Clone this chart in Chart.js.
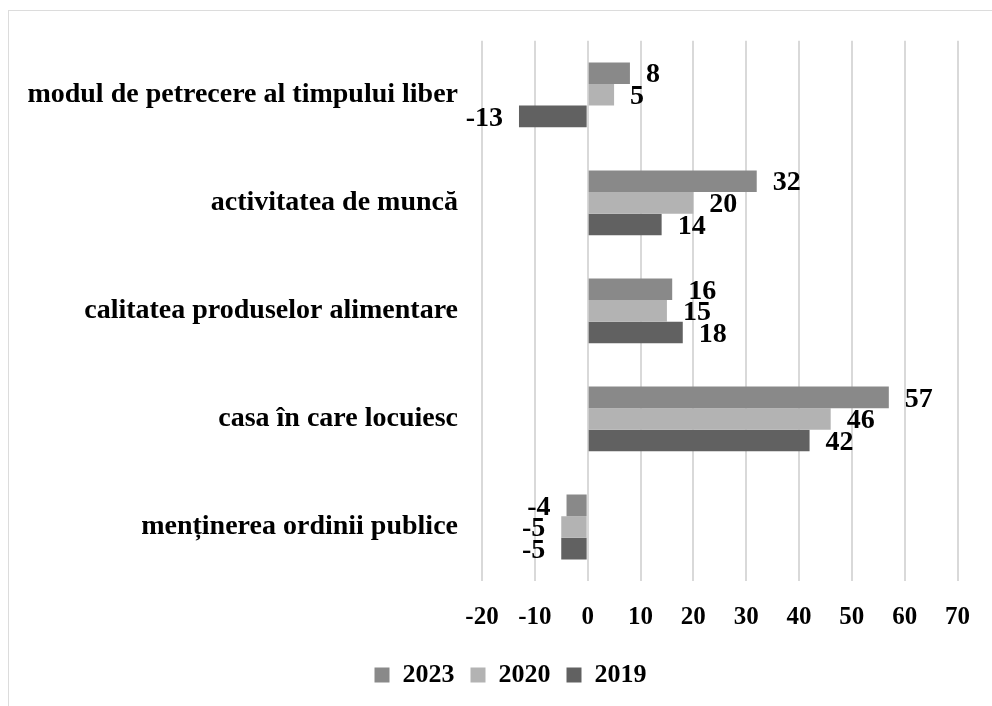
<!DOCTYPE html>
<html>
<head>
<meta charset="utf-8">
<script src="https://cdn.jsdelivr.net/npm/chart.js@4.4.0/dist/chart.umd.min.js"></script>
<style>
  html, body { margin: 0; padding: 0; background: #fff; overflow: hidden; }
  .frame {
    position: absolute; left: 8px; top: 10px; width: 1100px; height: 1000px;
    border: 1.5px solid #dcdcdc; box-sizing: border-box;
  }
  canvas { position: absolute; left: 0; top: 0; }
</style>
</head>
<body>
<div class="frame"></div>
<canvas id="chart" width="992" height="706"></canvas>
<script>
const categories = [
  "modul de petrecere al timpului liber",
  "activitatea de muncă",
  "calitatea produselor alimentare",
  "casa în care locuiesc",
  "menținerea ordinii publice",
];
const values2023 = [8, 32, 16, 57, -4];
const values2020 = [5, 20, 15, 46, -5];
const values2019 = [-13, 14, 18, 42, -5];
const xTicks = [-20, -10, 0, 10, 20, 30, 40, 50, 60, 70];

const FONT = "'Liberation Serif', 'Times New Roman', serif";

// value labels at the end of each bar
const barLabels = {
  id: "barLabels",
  afterDatasetsDraw(chart) {
    const ctx = chart.ctx;
    ctx.save();
    ctx.font = "bold 28px " + FONT;
    ctx.fillStyle = "#000";
    ctx.textBaseline = "middle";
    chart.data.datasets.forEach((ds, i) => {
      const meta = chart.getDatasetMeta(i);
      meta.data.forEach((bar, j) => {
        const v = ds.data[j];
        if (v >= 0) {
          ctx.textAlign = "left";
          ctx.fillText(String(v), bar.x + 16, bar.y + 2);
        } else {
          ctx.textAlign = "right";
          ctx.fillText(String(v), bar.x - 16, bar.y + 2);
        }
      });
    });
    ctx.restore();
  },
};

// legend sits a bit right of the chart centre in the original
const legendShift = {
  id: "legendShift",
  afterLayout(chart) {
    chart.legend.left += 25;
    chart.legend.right += 25;
  },
};

const config = {
  type: "bar",
  data: {
    labels: categories,
    datasets: [
      { label: "2023", data: values2023, backgroundColor: "#898989" },
      { label: "2020", data: values2020, backgroundColor: "#b3b3b3" },
      { label: "2019", data: values2019, backgroundColor: "#616161" },
    ],
  },
  options: {
    indexAxis: "y",
    responsive: false,
    animation: false,
    devicePixelRatio: 1,
    datasets: {
      bar: { categoryPercentage: 0.6, barPercentage: 1.0 },
    },
    layout: { padding: { top: 38, right: 31, left: 10, bottom: 8 } },
    scales: {
      x: {
        min: -20,
        max: 70,
        afterBuildTicks(scale) {
          scale.ticks = xTicks.map((v) => ({ value: v }));
        },
        afterFit(scale) {
          scale.height = 65;
        },
        grid: { color: "#d9d9d9", lineWidth: 2, drawTicks: false },
        border: { display: false },
        ticks: {
          color: "#000",
          padding: 22,
          maxRotation: 0,
          font: { family: FONT, size: 25, weight: "bold" },
        },
      },
      y: {
        grid: { display: false, drawTicks: false },
        border: { display: false },
        afterFit(scale) {
          scale.width = 472;
        },
        ticks: {
          color: "#000",
          padding: 24,
          font: { family: FONT, size: 28, weight: "bold" },
        },
      },
    },
    plugins: {
      legend: {
        position: "bottom",
        labels: {
          color: "#000",
          boxWidth: 15,
          boxHeight: 15,
          padding: 16,
          font: { family: FONT, size: 26, weight: "bold" },
        },
      },
      tooltip: { enabled: false },
    },
  },
  plugins: [barLabels, legendShift],
};

new Chart(document.getElementById("chart").getContext("2d"), config);
</script>
</body>
</html>
